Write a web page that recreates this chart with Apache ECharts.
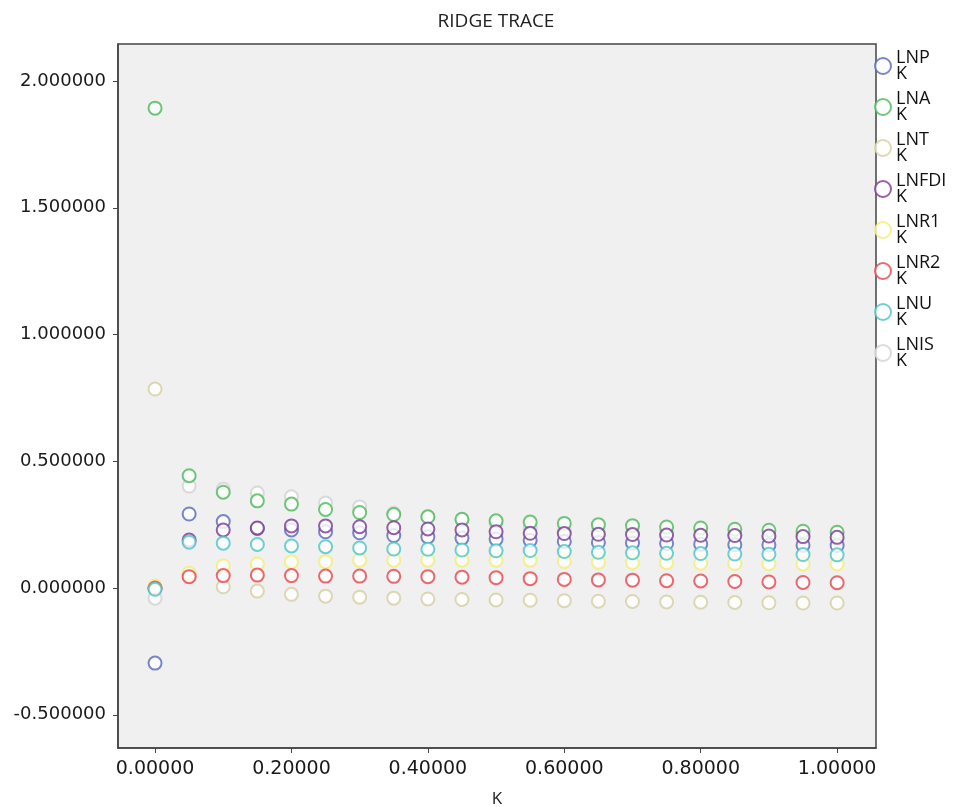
<!DOCTYPE html>
<html>
<head>
<meta charset="utf-8">
<script src="https://cdn.jsdelivr.net/npm/echarts@6/dist/echarts.min.js"></script>
<style>html,body{margin:0;padding:0;background:#fff;}#main{width:955px;height:807px;}</style>
</head>
<body>
<div id="main"></div>
<script>
var kValues = [0.00, 0.05, 0.10, 0.15, 0.20, 0.25, 0.30, 0.35, 0.40, 0.45, 0.50, 0.55, 0.60, 0.65, 0.70, 0.75, 0.80, 0.85, 0.90, 0.95, 1.00];
var xTicks = [0.0, 0.2, 0.4, 0.6, 0.8, 1.0];
var yTicks = [-0.5, 0.0, 0.5, 1.0, 1.5, 2.0];

var LNP   = [-0.296, 0.292, 0.262, 0.235, 0.229, 0.222, 0.218, 0.207, 0.202, 0.197, 0.193, 0.188, 0.184, 0.180, 0.178, 0.176, 0.173, 0.171, 0.170, 0.169, 0.168];
var LNA   = [1.893, 0.443, 0.378, 0.344, 0.331, 0.310, 0.298, 0.290, 0.281, 0.271, 0.265, 0.260, 0.255, 0.250, 0.246, 0.241, 0.237, 0.232, 0.228, 0.224, 0.220];
var LNT   = [0.785, 0.048, 0.005, -0.012, -0.025, -0.032, -0.036, -0.040, -0.043, -0.045, -0.047, -0.048, -0.050, -0.052, -0.053, -0.055, -0.056, -0.057, -0.058, -0.059, -0.059];
var LNFDI = [0.000, 0.189, 0.229, 0.237, 0.245, 0.245, 0.242, 0.238, 0.233, 0.229, 0.222, 0.216, 0.215, 0.212, 0.211, 0.209, 0.208, 0.207, 0.205, 0.203, 0.200];
var LNR1  = [0.008, 0.058, 0.087, 0.095, 0.103, 0.104, 0.110, 0.110, 0.110, 0.110, 0.110, 0.110, 0.105, 0.102, 0.100, 0.100, 0.098, 0.097, 0.096, 0.095, 0.095];
var LNR2  = [0.000, 0.045, 0.049, 0.051, 0.049, 0.047, 0.047, 0.046, 0.045, 0.043, 0.041, 0.037, 0.034, 0.032, 0.031, 0.029, 0.028, 0.026, 0.024, 0.022, 0.021];
var LNU   = [-0.005, 0.181, 0.177, 0.172, 0.166, 0.163, 0.158, 0.154, 0.153, 0.150, 0.147, 0.148, 0.144, 0.141, 0.139, 0.137, 0.136, 0.134, 0.133, 0.132, 0.131];
var LNIS  = [-0.040, 0.402, 0.390, 0.375, 0.360, 0.335, 0.320, 0.295, 0.280, 0.268, 0.255, 0.238, 0.228, 0.222, 0.218, 0.215, 0.212, 0.206, 0.200, 0.195, 0.190];

var seriesNames = ['LNP', 'LNA', 'LNT', 'LNFDI', 'LNR1', 'LNR2', 'LNU', 'LNIS'];
var seriesData = [LNP, LNA, LNT, LNFDI, LNR1, LNR2, LNU, LNIS];
var seriesColors = ['#5868bc', '#48ba58', '#d6cea0', '#7a3a94', '#f2ee70', '#e8444c', '#48c6c6', '#d2d2d2'];

var chart = echarts.init(document.getElementById('main'));
var series = seriesNames.map(function (name, i) {
  return {
    name: name,
    type: 'scatter',
    symbol: 'emptyCircle',
    symbolSize: 13,
    z: name === 'LNIS' ? 1 : 2,
    itemStyle: { color: seriesColors[i], borderColor: seriesColors[i], borderWidth: 2.2 },
    emphasis: { disabled: true },
    data: kValues.map(function (k, j) { return [k, seriesData[i][j]]; })
  };
});

chart.setOption({
  animation: false,
  backgroundColor: '#ffffff',
  title: {
    text: 'RIDGE TRACE',
    left: 491,
    textAlign: 'center',
    top: 7,
    textStyle: { fontFamily: 'Open Sans', fontSize: 19, fontWeight: 'normal', color: '#222' }
  },
  legend: {
    orient: 'vertical',
    left: 869,
    top: 44,
    itemWidth: 16,
    itemHeight: 18,
    itemGap: 7,
    selectedMode: false,
    formatter: function (name) { return name + '\nK'; },
    textStyle: { fontFamily: 'Open Sans', fontSize: 18, lineHeight: 16, color: '#111' },
    data: seriesNames
  },
  grid: {
    left: 118, right: 79, top: 44, bottom: 59,
    outerBoundsMode: 'none',
    containLabel: false,
    show: true, backgroundColor: '#f0f0f0', borderColor: '#444', borderWidth: 1.5
  },
  xAxis: {
    type: 'value',
    min: -0.0543, max: 1.057,
    name: 'K', nameLocation: 'middle', nameGap: 43,
    nameTextStyle: { fontFamily: 'Open Sans', fontSize: 17, color: '#222' },
    axisLine: { show: true, onZero: false, lineStyle: { color: '#444', width: 1.5 } },
    axisTick: { show: true, length: 5, customValues: xTicks, lineStyle: { color: '#444' } },
    axisLabel: {
      customValues: xTicks, margin: 12,
      fontFamily: 'DejaVu Sans', fontSize: 19, color: '#1a1a1a',
      formatter: function (v) { return v.toFixed(5); }
    },
    splitLine: { show: false }
  },
  yAxis: {
    type: 'value',
    min: -0.631, max: 2.146,
    axisLine: { show: true, onZero: false, lineStyle: { color: '#444', width: 1.5 } },
    axisTick: { show: true, length: 5, customValues: yTicks, lineStyle: { color: '#444' } },
    axisLabel: {
      customValues: yTicks, margin: 12,
      fontFamily: 'DejaVu Sans', fontSize: 18, color: '#1a1a1a',
      formatter: function (v) { return v.toFixed(6); }
    },
    splitLine: { show: false }
  },
  series: series
});
</script>
</body>
</html>
